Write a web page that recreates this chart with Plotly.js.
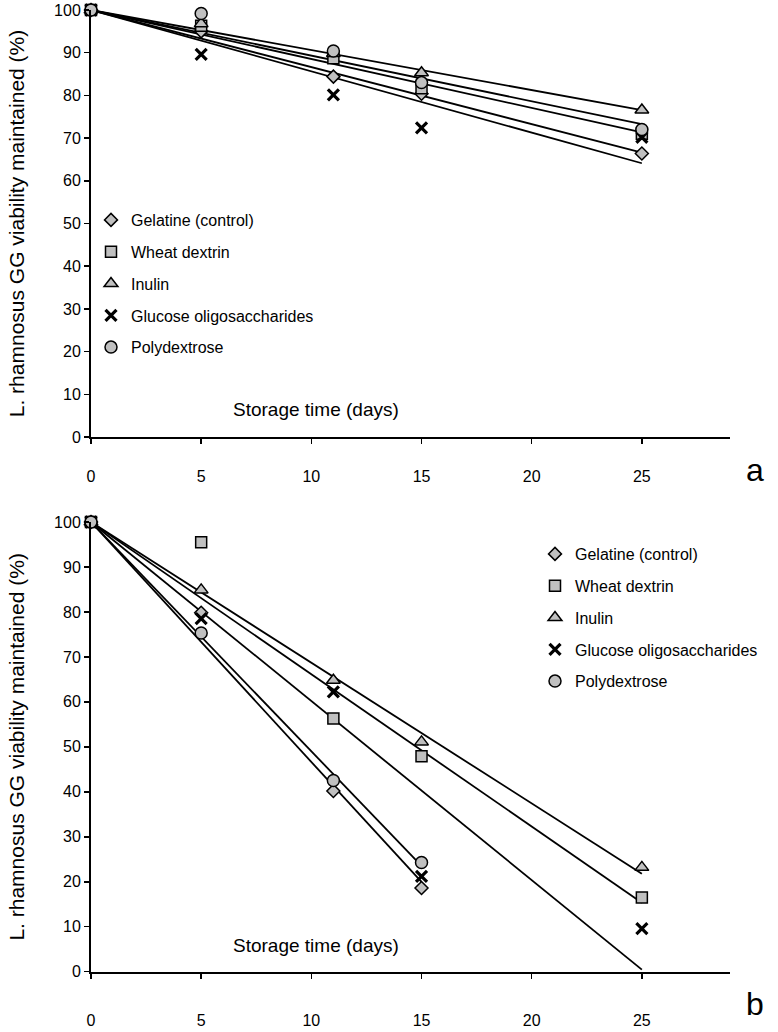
<!DOCTYPE html>
<html>
<head>
<meta charset="utf-8">
<script src="https://cdn.plot.ly/plotly-3.0.1.min.js"></script>
<style>
html,body{margin:0;padding:0;background:#fff;}
#chart{width:778px;height:1032px;}
</style>
</head>
<body>
<div id="chart"></div>
<script>
// ---- data ----
const days = [0, 5, 11, 15, 25];
const seriesNames = ["Gelatine (control)", "Wheat dextrin", "Inulin", "Glucose oligosaccharides", "Polydextrose"];

// panel a
const gelatineA = [100, 95.0, 84.4, 80.4, 66.4];
const wheatA    = [100, 96.3, 88.7, 81.7, 71.0];
const inulinA   = [100, 96.8, 89.8, 85.3, 76.6];
const gosA      = [100, 89.6, 80.1, 72.4, 70.2];
const polyA     = [100, 99.2, 90.4, 83.0, 72.0];

// panel b
const gelatineB = [100, 79.8, 40.2, 18.6, null];
const wheatB    = [100, 95.5, 56.3, 47.9, 16.5];
const inulinB   = [100, 84.9, 64.8, 51.1, 23.2];
const gosB      = [100, 78.5, 62.2, 21.2, 9.6];
const polyB     = [100, 75.3, 42.5, 24.3, null];

const xTicks = [0, 5, 10, 15, 20, 25];
const yTicks = [0, 10, 20, 30, 40, 50, 60, 70, 80, 90, 100];

// ---- styles ----
const FONT = "Liberation Sans, Arial, sans-serif";
const GRAY = "#c0c0c0";
const symbols = [
  {symbol: "diamond", size: 10, color: GRAY, line: {color: "#000", width: 1.5}},
  {symbol: "square", size: 11, color: GRAY, line: {color: "#000", width: 1.5}},
  {symbol: "triangle-up", size: 12, color: GRAY, line: {color: "#000", width: 1.5}},
  {symbol: "x-thin", size: 11, color: "#000", line: {color: "#000", width: 3.2}},
  {symbol: "circle", size: 12, color: GRAY, line: {color: "#000", width: 1.5}}
];

// Trendline with intercept fixed at 100 (as in the original spreadsheet)
function trend(xs, ys) {
  let sxy = 0, sxx = 0, xmax = 0;
  xs.forEach((x, i) => {
    if (ys[i] === null) return;
    sxy += x * (ys[i] - 100);
    sxx += x * x;
    xmax = Math.max(xmax, x);
  });
  const b = sxy / sxx;
  return {x: [0, xmax], y: [100, 100 + b * xmax]};
}

const traces = [];
function addPanel(list, xa, ya, legendId, suffix) {
  list.forEach((ys, i) => {
    const t = trend(days, ys);
    traces.push({
      x: t.x, y: t.y, xaxis: xa, yaxis: ya, mode: "lines", type: "scatter",
      line: {color: "#000", width: 1.8}, showlegend: false, hoverinfo: "skip",
      legendgroup: suffix + i, legend: legendId
    });
  });
  list.forEach((ys, i) => {
    traces.push({
      x: days, y: ys, xaxis: xa, yaxis: ya, mode: "markers", type: "scatter",
      name: seriesNames[i], marker: symbols[i], cliponaxis: false,
      legendgroup: suffix + i, legend: legendId, showlegend: true
    });
  });
}
addPanel([gelatineA, wheatA, inulinA, gosA, polyA], "x", "y", "legend", "a");
addPanel([gelatineB, wheatB, inulinB, gosB, polyB], "x2", "y2", "legend2", "b");

const W = 778, H = 1032;
const px = v => v / W;
const py = v => 1 - v / H;

function xaxisDef(anchor, standoff) {
  return {
    domain: [px(91), px(730)], range: [0, 29], anchor: anchor,
    tickvals: xTicks, ticks: "outside", ticklen: 5, tickwidth: 1.5, tickcolor: "#000",
    showline: true, linecolor: "#000", linewidth: 2, showgrid: false, zeroline: false,
    ticklabelstandoff: standoff,
    tickfont: {family: FONT, size: 16, color: "#000"}, fixedrange: true
  };
}
function yaxisDef(anchor, top, bottom) {
  return {
    domain: [py(bottom), py(top)], range: [0, 100], anchor: anchor,
    tickvals: yTicks, ticks: "outside", ticklen: 5, tickwidth: 1.5, tickcolor: "#000",
    showline: true, linecolor: "#000", linewidth: 2, showgrid: false, zeroline: false,
    tickfont: {family: FONT, size: 16, color: "#000"}, fixedrange: true,
    title: {text: "L. rhamnosus GG viability maintained (%)", font: {family: FONT, size: 21, color: "#000"}, standoff: 24}
  };
}
function legendDef(x, y) {
  return {
    x: px(x), y: py(y), xanchor: "left", yanchor: "top",
    font: {family: FONT, size: 16, color: "#000"}, bgcolor: "rgba(0,0,0,0)",
    traceorder: "grouped", tracegroupgap: 8, itemwidth: 30, borderwidth: 0
  };
}

const layout = {
  width: W, height: H,
  margin: {l: 0, r: 0, t: 0, b: 0},
  paper_bgcolor: "#fff", plot_bgcolor: "#fff",
  font: {family: FONT, color: "#000"},
  xaxis: xaxisDef("y", 19),
  yaxis: yaxisDef("x", 10, 437),
  xaxis2: xaxisDef("y2", 28),
  yaxis2: yaxisDef("x2", 522, 971.7),
  legend: legendDef(91, 203),
  legend2: legendDef(535, 537),
  annotations: [
    {text: "Storage time (days)", x: 10.2, y: 6.5, xref: "x", yref: "y", showarrow: false,
     font: {family: FONT, size: 19, color: "#000"}, xanchor: "center", yanchor: "middle"},
    {text: "Storage time (days)", x: 10.2, y: 5.8, xref: "x2", yref: "y2", showarrow: false,
     font: {family: FONT, size: 19, color: "#000"}, xanchor: "center", yanchor: "middle"},
    {text: "a", x: px(755), y: py(470), xref: "paper", yref: "paper", showarrow: false,
     font: {family: FONT, size: 32, color: "#000"}, xanchor: "center", yanchor: "middle"},
    {text: "b", x: px(755), y: py(1004), xref: "paper", yref: "paper", showarrow: false,
     font: {family: FONT, size: 32, color: "#000"}, xanchor: "center", yanchor: "middle"}
  ]
};

Plotly.newPlot("chart", traces, layout, {displayModeBar: false, staticPlot: true});
</script>
</body>
</html>
